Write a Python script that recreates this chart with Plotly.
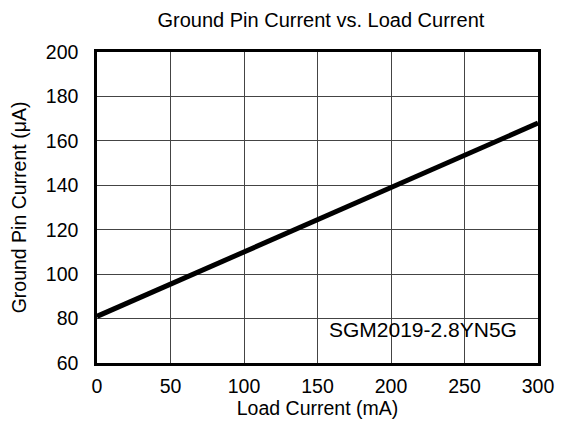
import plotly.graph_objects as go

load_ma = [0, 50, 100, 150, 200, 250, 300]
gnd_ua = [81, 95.5, 110, 124.5, 139, 153.5, 168]
x_ticks = [0, 50, 100, 150, 200, 250, 300]
y_ticks = [60, 80, 100, 120, 140, 160, 180, 200]
title_text = "Ground Pin Current vs. Load Current"
x_title = "Load Current (mA)"
y_title = "Ground Pin Current (μA)"
label_text = "SGM2019-2.8YN5G"

fig = go.Figure()
fig.add_trace(go.Scatter(x=load_ma, y=gnd_ua, mode="lines",
                         line=dict(color="black", width=5), showlegend=False))

font = "Liberation Sans, Arial, sans-serif"
axis_common = dict(showgrid=True, gridcolor="#444444", gridwidth=1,
                   showline=True, linecolor="black", linewidth=2.5, mirror=True,
                   ticks="", zeroline=False, automargin=False,
                   tickfont=dict(family=font, size=19.5, color="black"))

fig.update_layout(
    width=548, height=421,
    margin=dict(l=89, r=18, t=44, b=66),
    paper_bgcolor="white", plot_bgcolor="white",
    title=dict(text=title_text, x=0.571, xanchor="center",
               y=0.9715, yanchor="middle",
               font=dict(family=font, size=20, color="black")),
    xaxis=dict(range=[0, 300], tickvals=x_ticks, ticklabelstandoff=4,
               title=dict(text=x_title, font=dict(family=font, size=19.5, color="black"), standoff=6),
               **axis_common),
    yaxis=dict(range=[60, 200], tickvals=y_ticks, ticklabelstandoff=12,
               title=dict(text=y_title, font=dict(family=font, size=19.5, color="black"), standoff=16),
               **axis_common),
)

fig.add_shape(type="rect", xref="paper", yref="paper",
              x0=0.499, x1=1.0, y0=0.032, y1=0.186,
              fillcolor="white", line=dict(width=0), layer="between")

fig.add_annotation(x=0.5215, xref="paper", y=0.109, yref="paper", xanchor="left", yanchor="middle",
                   text=label_text, showarrow=False,
                   font=dict(family=font, size=21, color="black"))

fig.write_html("out.html")
